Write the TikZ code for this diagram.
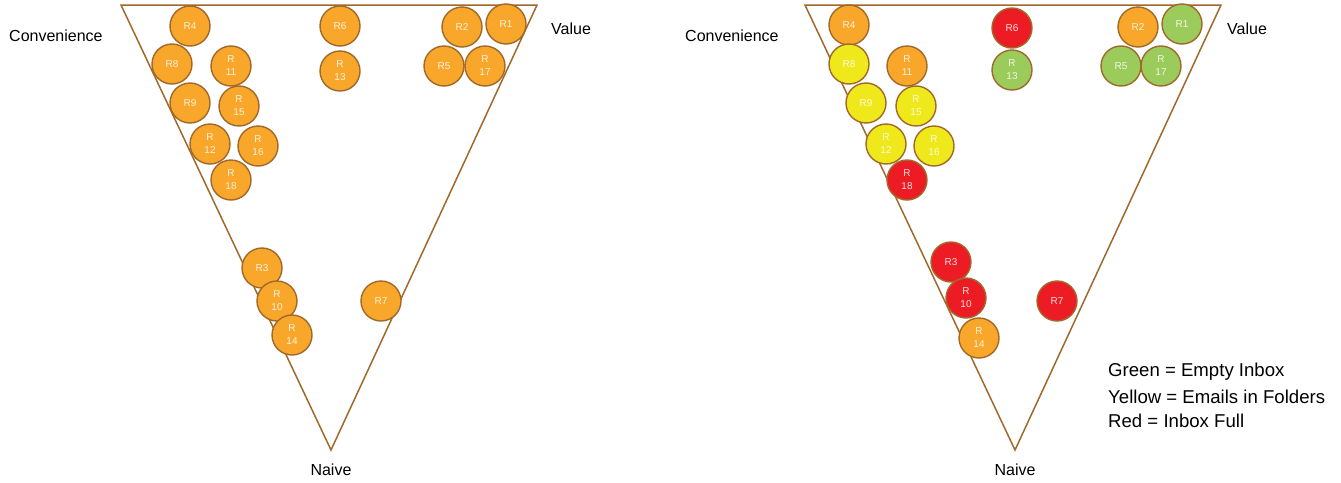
\documentclass[tikz,border=0pt]{standalone}
\usepackage{fontspec}
\setmainfont{Liberation Sans}
\definecolor{orng}{HTML}{F9A72B}
\definecolor{brn}{HTML}{A0692C}
\definecolor{grn}{HTML}{9BCB5B}
\definecolor{ylw}{HTML}{EFE81A}
\definecolor{rd}{HTML}{ED1C24}
\tikzset{
  tri/.style={draw=brn, line width=1.5pt, line join=miter},
  rc/.style={circle, draw=brn, line width=1.4pt, minimum size=40pt, inner sep=0pt, fill=orng,
    text=white, text opacity=0.85, align=center, font=\fontsize{10}{13}\selectfont},
  og/.style={rc, fill=orng},
  gn/.style={rc, fill=grn},
  yw/.style={rc, fill=ylw},
  rr/.style={rc, fill=rd},
  lbl/.style={font=\fontsize{16}{19}\selectfont, text=black, inner sep=0pt},
  leg/.style={font=\fontsize{18.6}{24}\selectfont, text=black, inner sep=0pt, anchor=west}
}
\begin{document}
\begin{tikzpicture}[x=1pt,y=-1pt]
\useasboundingbox (0,0) rectangle (1341,482);
% left triangle
\coordinate (la) at (121,5);
\coordinate (lb) at (537,5);
\coordinate (lc) at (331,450);
\draw[tri] (la) -- (lb) -- (lc) -- cycle;
% right triangle
\coordinate (ra) at (805,5);
\coordinate (rb) at (1221,5);
\coordinate (rc) at (1015,450);
\draw[tri] (ra) -- (rb) -- (rc) -- cycle;
% labels
\node[lbl, anchor=west] (lconv) at (9,36) {Convenience};
\node[lbl, anchor=west] (lval) at (551,29) {Value};
\node[lbl] (lnai) at (331,470) {Naive};
\node[lbl, anchor=west] (rconv) at (685,36) {Convenience};
\node[lbl, anchor=west] (rval) at (1227,29) {Value};
\node[lbl] (rnai) at (1015,470) {Naive};
% left circles
\node[og] (l4) at (190,26) {R4};
\node[og] (l8) at (172,64) {R8};
\node[og] (l11) at (231,66) {R\\11};
\node[og] (l9) at (190,103) {R9};
\node[og] (l15) at (239,106) {R\\15};
\node[og] (l12) at (210,144) {R\\12};
\node[og] (l16) at (258,146) {R\\16};
\node[og] (l18) at (231,180) {R\\18};
\node[og] (l6) at (340,26) {R6};
\node[og] (l13) at (340,71) {R\\13};
\node[og] (l2) at (462,27) {R2};
\node[og] (l1) at (506,24) {R1};
\node[og] (l5) at (444,66) {R5};
\node[og] (l17) at (485,66) {R\\17};
\node[og] (l3) at (262,268) {R3};
\node[og] (l10) at (277,301) {R\\10};
\node[og] (l14) at (292,335) {R\\14};
\node[og] (l7) at (381,301) {R7};
% right circles
\node[og] (r4) at (849,25) {R4};
\node[yw] (r8) at (849,64) {R8};
\node[og] (r11) at (907,66) {R\\11};
\node[yw] (r9) at (866,103) {R9};
\node[yw] (r15) at (916,106) {R\\15};
\node[yw] (r12) at (886,144) {R\\12};
\node[yw] (r16) at (934,146) {R\\16};
\node[rr] (r18) at (907,180) {R\\18};
\node[rr] (r6) at (1012,28) {R6};
\node[gn] (r13) at (1012,70) {R\\13};
\node[og] (r2) at (1138,27) {R2};
\node[gn] (r1) at (1182,24) {R1};
\node[gn] (r5) at (1121,66) {R5};
\node[gn] (r17) at (1161,66) {R\\17};
\node[rr] (r3) at (951,262) {R3};
\node[rr] (r10) at (966,298) {R\\10};
\node[og] (r14) at (979,338) {R\\14};
\node[rr] (r7) at (1057,301) {R7};
% legend
\node[leg] (g1) at (1108,372) {Green = Empty Inbox};
\node[leg] (g2) at (1108,397) {Yellow = Emails in Folders};
\node[leg] (g3) at (1108,421) {Red = Inbox Full};
\end{tikzpicture}
\end{document}
